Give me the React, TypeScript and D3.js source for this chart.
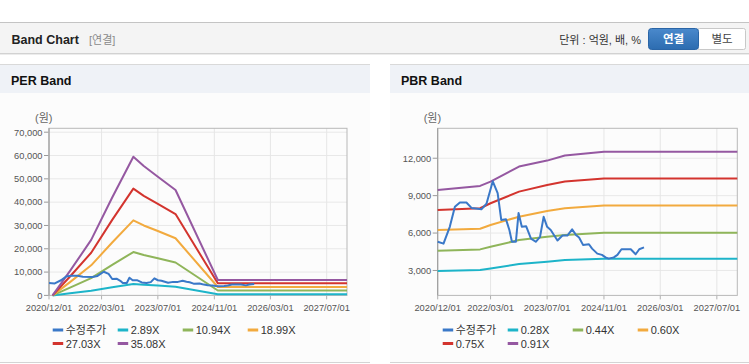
import React from 'react';
import * as d3 from 'd3';

// x axis
const tickDates = ['2020-12-01', '2022-03-01', '2023-07-01', '2024-11-01', '2026-03-01', '2027-07-01'];
const xStart = '2020-12-01';
const xEnd = '2027-12-24';

// adjusted price (shared by both charts)
const priceDates = [
  '2020-12-01', '2021-01-20', '2021-03-15', '2021-04-28', '2021-06-10', '2021-08-05', '2021-09-20',
  '2021-12-12', '2022-01-25', '2022-03-20', '2022-05-01', '2022-06-01', '2022-07-12', '2022-08-10',
  '2022-09-01', '2022-10-05', '2022-10-28', '2022-11-25', '2023-01-01', '2023-02-12', '2023-03-25',
  '2023-05-01', '2023-06-01', '2023-07-01', '2023-08-01', '2023-09-28', '2023-11-10', '2023-12-22',
  '2024-02-01', '2024-03-05', '2024-04-01', '2024-05-05', '2024-06-25', '2024-07-22', '2024-09-05',
  '2024-10-15', '2024-11-15', '2024-12-12', '2025-01-25', '2025-02-25', '2025-04-01', '2025-06-20',
  '2025-08-01', '2025-09-01', '2025-10-12',
];
const priceValues = [
  5300, 5150, 6500, 8100, 8450, 8450, 8000,
  7900, 8350, 10150, 9200, 7050, 7100, 6250,
  5300, 5300, 7600, 6500, 6550, 5550, 5300,
  5700, 7300, 6500, 6250, 5400, 5800, 5800,
  6300, 5850, 5650, 5050, 5100, 4750, 4350,
  4250, 4050, 3950, 4050, 4250, 4700, 4700,
  4300, 4700, 4850,
];

// PER band
const perDates = ['2021-01-01', '2021-06-01', '2021-12-01', '2022-06-01', '2022-12-01', '2023-03-01', '2023-07-01', '2023-12-01', '2024-12-01', '2027-12-24'];
const perLabels = ['2.89X', '10.94X', '18.99X', '27.03X', '35.08X'];
const per289 = [0, 900, 2000, 3500, 4900, 4600, 4200, 3700, 500, 500];
const per1094 = [0, 3300, 7400, 13100, 18600, 17300, 15900, 14100, 2100, 2100];
const per1899 = [0, 5700, 12900, 22700, 32200, 30000, 27600, 24500, 3600, 3600];
const per2703 = [0, 8100, 18300, 32400, 45800, 42700, 39300, 34900, 5200, 5200];
const per3508 = [0, 10500, 23800, 42000, 59500, 55500, 50900, 45200, 6600, 6600];
const perTicks = [0, 10000, 20000, 30000, 40000, 50000, 60000, 70000];

// PBR band
const pbrDates = ['2020-12-01', '2021-12-01', '2022-03-01', '2022-11-01', '2023-07-01', '2023-12-01', '2024-11-01', '2027-12-24'];
const pbrLabels = ['0.28X', '0.44X', '0.60X', '0.75X', '0.91X'];
const pbr028 = [2950, 3030, 3160, 3510, 3700, 3830, 3940, 3940];
const pbr044 = [4580, 4690, 4900, 5440, 5710, 5840, 6030, 6030];
const pbr060 = [6240, 6350, 6650, 7310, 7770, 7990, 8200, 8200];
const pbr075 = [7850, 7990, 8390, 9320, 9860, 10130, 10370, 10370];
const pbr091 = [9460, 9780, 10130, 11330, 11810, 12220, 12510, 12510];
const pbrTicks = [3000, 6000, 9000, 12000];

const priceLabel = '수정주가';
const colors = ['#3a78c8', '#1db4c9', '#8fb55a', '#f2aa3e', '#d3342e', '#9558a1'];

const num = '"Liberation Sans", Arial, "Noto Sans CJK KR", sans-serif';
const kr = '"Liberation Sans", "Noto Sans CJK KR", sans-serif';

const parse = d3.timeParse('%Y-%m-%d');

type Pt = { d: Date; v: number };
const zip = (dates: string[], vals: number[]): Pt[] => dates.map((s, i) => ({ d: parse(s) as Date, v: vals[i] }));

function Band({ ox, title, yDomain, yTop, ticks, dates, bands, labels, left, right }: any) {
  const top = 128.3;
  const bottom = 295.4;
  const x = d3.scaleTime().domain([parse(xStart) as Date, parse(xEnd) as Date]).range([left, right]);
  const y = d3.scaleLinear().domain(yDomain).range([bottom, yTop]);
  const line = d3.line<Pt>().x(p => x(p.d)).y(p => y(p.v));
  const series = [zip(priceDates, priceValues), ...bands.map((b: number[]) => zip(dates, b))];
  const names = [priceLabel, ...labels];
  const fmt = d3.format(',');
  const tf = d3.timeFormat('%Y/%m/%d');
  const panelW = ox === 0 ? 370 : 359;

  return (
    <g>
      <rect x={ox} y={64} width={panelW} height={298} fill="#fcfcfc" />
      <rect x={ox} y={64.5} width={panelW} height={28.5} fill="#eff2f7" />
      <line x1={ox} x2={ox + panelW} y1={64.5} y2={64.5} stroke="#d9d9d9" />
      <line x1={ox} x2={ox + panelW} y1={362.5} y2={362.5} stroke="#d4d4d4" />
      <text x={ox + 11} y={84.5} fontFamily={num} fontWeight="bold" fontSize={12.5} fill="#111">{title}</text>
      <text x={left - 14} y={122} fontFamily={kr} fontSize={11} fill="#666">(원)</text>

      {ticks.map((t: number) => (
        <g key={t}>
          <line x1={left} x2={right} y1={y(t)} y2={y(t)} stroke="#e8e8e8" />
          <line x1={left - 5} x2={left} y1={y(t)} y2={y(t)} stroke="#9a9a9a" />
          <text x={left - 6.5} y={y(t) + 3.3} textAnchor="end" fontFamily={num} fontSize={9.3} fill="#555">{fmt(t)}</text>
        </g>
      ))}
      {tickDates.map(s => {
        const xx = x(parse(s) as Date);
        return (
          <g key={s}>
            <line x1={xx} x2={xx} y1={top} y2={bottom} stroke="#e6e6e6" />
            <line x1={xx} x2={xx} y1={bottom} y2={bottom + 4} stroke="#b0b0b0" />
            <text x={xx} y={310.5} textAnchor="middle" fontFamily={num} fontSize={9.3} fill="#555">{tf(parse(s) as Date)}</text>
          </g>
        );
      })}
      <rect x={left} y={top} width={right - left} height={bottom - top} fill="none" stroke="#b8b8b8" />
      <line x1={left} x2={left} y1={top} y2={bottom} stroke="#9a9a9a" />

      {series.slice(1).map((s: Pt[], i: number) => (
        <path key={i} d={line(s) || ''} fill="none" stroke={colors[i + 1]} strokeWidth={2} strokeLinejoin="round" />
      ))}
      <path d={line(series[0]) || ''} fill="none" stroke={colors[0]} strokeWidth={2} strokeLinejoin="round" />

      {names.map((n, i) => {
        const lx = ox + 52.7 + (i % 4) * 65;
        const ly = i < 4 ? 330 : 343.5;
        return (
          <g key={n}>
            <line x1={lx} x2={lx + 10.5} y1={ly} y2={ly} stroke={colors[i]} strokeWidth={3} />
            <text x={lx + 13} y={ly + 4} fontFamily={kr} fontSize={11} fill="#333">{n}</text>
          </g>
        );
      })}
    </g>
  );
}

export default function App() {
  return (
    <div style={{ position: 'fixed', left: 0, top: 0 }}>
      <svg width={749} height={364} style={{ display: 'block', background: '#fff' }}>
        <rect x={0} y={22} width={749} height={31.5} fill="#f4f4f4" />
        <line x1={0} x2={749} y1={22.5} y2={22.5} stroke="#c4c4c4" />
        <line x1={0} x2={749} y1={53.5} y2={53.5} stroke="#d2d2d2" />
        <line x1={0} x2={749} y1={54.5} y2={54.5} stroke="#ececec" />
        <text x={11.5} y={43.5} fontFamily={num} fontWeight="bold" fontSize={12.5} fill="#222">Band Chart</text>
        <text x={89} y={43.5} fontFamily={kr} fontSize={11} fill="#8a8a8a">[연결]</text>
        <text x={641} y={43.5} textAnchor="end" fontFamily={kr} fontSize={11} fill="#333">단위 : 억원, 배, %</text>
        <defs>
          <linearGradient id="btn" x1="0" x2="0" y1="0" y2="1">
            <stop offset="0" stopColor="#4a89cc" />
            <stop offset="1" stopColor="#2c6cb0" />
          </linearGradient>
        </defs>
        <rect x={697.5} y={28.5} width={48} height={21} rx={2} fill="#fff" stroke="#c8c8c8" />
        <rect x={648.5} y={28.5} width={50} height={21} rx={3} fill="url(#btn)" stroke="#2a65a6" />
        <text x={673.5} y={43} textAnchor="middle" fontFamily={kr} fontWeight="bold" fontSize={11.5} fill="#fff">연결</text>
        <text x={722} y={43} textAnchor="middle" fontFamily={kr} fontSize={11.5} fill="#444">별도</text>

        <Band ox={0} title="PER Band" yDomain={[0, 70000]} yTop={132.2} ticks={perTicks}
          dates={perDates} bands={[per289, per1094, per1899, per2703, per3508]} labels={perLabels}
          left={49} right={347} />
        <Band ox={390} title="PBR Band" yDomain={[1000, 14400]} yTop={128.3} ticks={pbrTicks}
          dates={pbrDates} bands={[pbr028, pbr044, pbr060, pbr075, pbr091]} labels={pbrLabels}
          left={437.7} right={737.3} />
      </svg>
    </div>
  );
}
